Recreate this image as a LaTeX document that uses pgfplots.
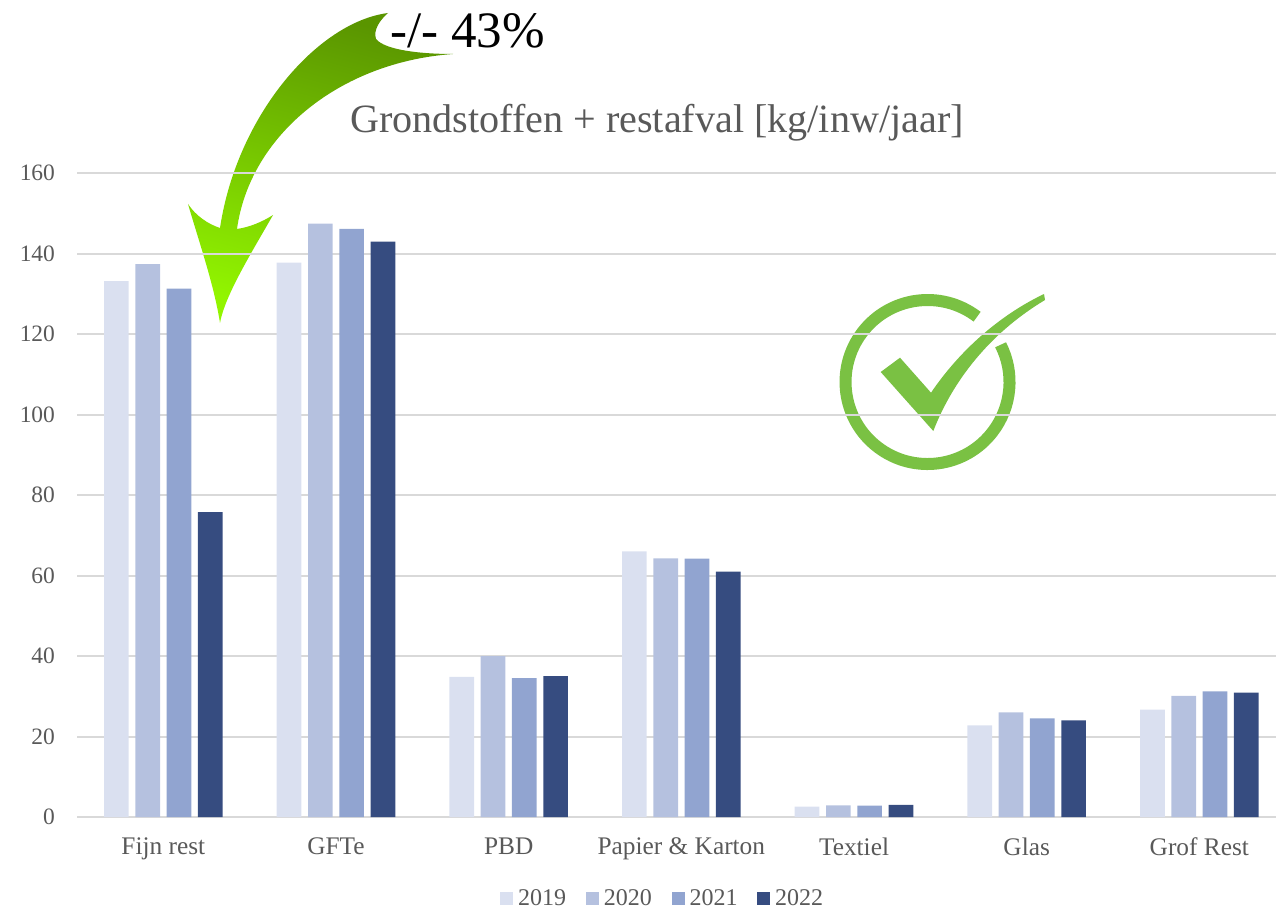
\documentclass[border=0pt]{standalone}
\usepackage{fontspec}
\setmainfont{Liberation Serif}
\usepackage{pgfplots}
\pgfplotsset{compat=1.18}
\definecolor{gridc}{HTML}{D9D9D9}
\definecolor{txt}{HTML}{595959}
\definecolor{cA}{HTML}{DAE0F0}
\definecolor{cB}{HTML}{B5C1DF}
\definecolor{cC}{HTML}{91A4D0}
\definecolor{cD}{HTML}{364C80}
\definecolor{chk}{HTML}{7AC143}
\definecolor{arT}{HTML}{5A9500}
\definecolor{arB}{HTML}{92F500}
\begin{document}
\begin{tikzpicture}
\path[use as bounding box] (0,0) rectangle (957pt,681pt);
\begin{scope}[shift={(0,681pt)},x=0.75pt,y=-0.75pt]
% arrow
\path[top color=arT,bottom color=arB,shading angle=-15]
 (388,13) .. controls (318,22) and (237,115) .. (220,228)
 .. controls (208,224) and (196,216) .. (188,204)
 .. controls (200,245) and (214,285) .. (220,323)
 .. controls (225,295) and (252,252) .. (273,215)
 .. controls (262,222) and (250,227) .. (237,229)
 .. controls (250,135) and (340,62) .. (453,54)
 .. controls (420,54) and (385,50) .. (376,39)
 .. controls (373,30) and (380,20) .. (388,13) -- cycle;
% check mark
\draw[chk,line width=9pt] (977.1,316.7) arc[start angle=-52.8,end angle=-387,radius=82];
\fill[chk] (880.7,372) -- (900,357.7) -- (931,392.7)
 .. controls (960,350) and (1000,315) .. (1044,294) -- (1045,300)
 .. controls (995,330) and (955,375) .. (933.3,431) -- cycle;
\end{scope}
\begin{axis}[
 at={(57.75pt,68.25pt)},anchor=south west,
 scale only axis,width=899.25pt,height=482.8pt,
 xmin=-0.5,xmax=6.444,ymin=0,ymax=160,
 ybar,bar width=18.5pt,
 axis x line*=bottom,axis y line*=left,
 x axis line style={draw=gridc,line width=1.5pt,-},
 y axis line style={draw=none,-},
 ytick={0,20,...,160},
 xtick={0,1,2,3,4,5,6},
 xticklabels={Fijn rest,GFTe,PBD,Papier \& Karton,Textiel,Glas,Grof Rest},
 major tick length=0pt,
 ymajorgrids,grid style={draw=gridc,line width=1.5pt},
 /pgf/number format/assume math mode=true,
 xticklabel style={font=\fontsize{19}{19}\selectfont,text=txt,yshift=-12pt},
 yticklabel style={font=\fontsize{17.6}{18}\selectfont,text=txt,xshift=-13pt},
 legend columns=4,
 legend style={at={(0.4883,-0.1265)},anchor=center,draw=none,fill=none,
   font=\fontsize{18}{18}\selectfont,text=txt,
   /tikz/every even column/.style={column sep=13.9pt},
   /tikz/every odd column/.style={column sep=2.6pt},
   inner sep=0pt,nodes={inner sep=1pt}},
 legend image code/.code={\fill[#1] (0pt,-4.9pt) rectangle (9.75pt,4.9pt);},
]
\addplot[fill=cA,draw=none,bar shift=-35.2pt] coordinates {(0,133.2)(1,137.8)(2,34.8)(3,66.0)(4,2.6)(5,22.8)(6,26.7)};
\addplot[fill=cB,draw=none,bar shift=-11.7pt] coordinates {(0,137.4)(1,147.5)(2,40.0)(3,64.3)(4,2.9)(5,26.0)(6,30.1)};
\addplot[fill=cC,draw=none,bar shift=11.7pt] coordinates {(0,131.3)(1,146.2)(2,34.5)(3,64.2)(4,2.8)(5,24.5)(6,31.2)};
\addplot[fill=cD,draw=none,bar shift=35.2pt] coordinates {(0,75.8)(1,143.0)(2,35.0)(3,61.0)(4,3.0)(5,24.0)(6,30.9)};
\legend{2019,2020,2021,2022}
\end{axis}
\begin{scope}[shift={(0,681pt)},x=0.75pt,y=-0.75pt]
\node[anchor=base,text=txt,font=\fontsize{30.1}{30}\selectfont,inner sep=0pt] at (657,133) {Grondstoffen + restafval [kg/inw/jaar]};
\node[anchor=base west,text=black,font=\fontsize{38.3}{38}\selectfont,inner sep=0pt] at (390,47.5) {-/- 43\%};
\end{scope}
\end{tikzpicture}
\end{document}
